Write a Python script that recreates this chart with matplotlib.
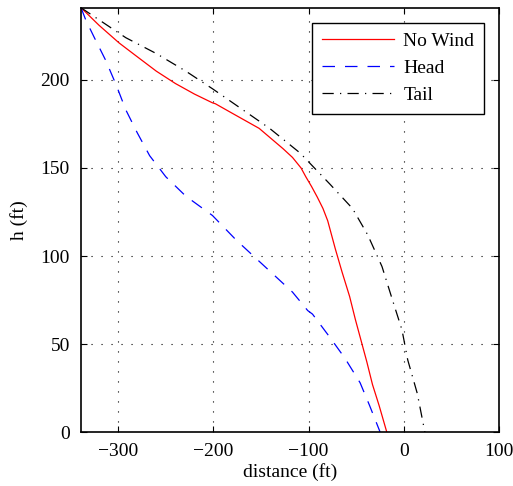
import numpy as np
import matplotlib
matplotlib.use('Agg')
import matplotlib.pyplot as plt

plt.rcParams['font.family'] = 'serif'
plt.rcParams['font.serif'] = ['Liberation Serif', 'DejaVu Serif']
plt.rcParams['font.size'] = 14

# Data (distance in ft, height in ft)
nowind_x = [-339, -320, -299, -282, -260, -240, -220, -201, -198, -180, -152,
            -127, -117, -108, -103, -97, -91, -85, -80, -76, -72, -65, -57,
            -51, -45, -39, -33, -26, -18]
nowind_h = [241, 231, 221, 214, 205, 198, 192, 187, 186.5, 181, 172.5,
            161, 156, 150, 145, 139.5, 133.5, 127, 120, 112, 104, 91, 77,
            64, 52, 40, 27, 15, 0]

head_x = [-339, -334, -325, -313, -302, -292, -280, -267, -250, -229, -201,
          -176, -160, -138, -117, -101, -96, -78, -62, -46, -36, -25]
head_h = [241, 234, 224, 211, 197, 183, 170, 157, 145, 134, 123,
          109, 101, 90, 79.5, 69, 67, 54, 42, 28, 15, 0]

tail_x = [-339, -328, -292, -260, -229, -201, -169, -141, -109, -78, -54,
          -38, -23, -12, -2, 4, 14, 22]
tail_h = [241, 237, 224, 215, 205, 195, 183, 172.5, 158.5, 141, 127,
          112, 94, 75, 58, 41, 22, 0]

fig = plt.figure(figsize=(5.13, 4.86), dpi=100)
ax = fig.add_axes([0.158, 0.111, 0.815, 0.873])

ax.plot(nowind_x, nowind_h, color='red', linewidth=0.9, label='No Wind')
ax.plot(head_x, head_h, color='blue', linewidth=0.9, linestyle=(0, (10, 8)),
        label='Head')
ax.plot(tail_x, tail_h, color='black', linewidth=0.9,
        linestyle=(0, (9, 5, 1, 5)), label='Tail')

ax.set_xlim(-339, 100)
ax.set_ylim(0, 241)
ax.set_xticks([-300, -200, -100, 0, 100])
ax.set_yticks([0, 50, 100, 150, 200])
ax.set_xticklabels(['\u2212300', '\u2212200', '\u2212100', '0', '100'])
ax.set_xlabel('distance (ft)', labelpad=2)
ax.set_ylabel('h (ft)', labelpad=9)

ax.grid(True, color='black', linestyle=(0, (1, 8)), linewidth=0.8)
ax.tick_params(direction='in', top=True, right=True, length=4, width=0.8)
ax.tick_params(axis='x', pad=8)
ax.tick_params(axis='y', pad=8)
for s in ax.spines.values():
    s.set_linewidth(1.2)

leg = ax.legend(loc='upper right', fancybox=False, edgecolor='black',
                framealpha=1, handlelength=3.7, handletextpad=0.5,
                borderpad=0.5, labelspacing=0.48, fontsize=14,
                bbox_to_anchor=(0.964, 0.965), borderaxespad=0)
leg.get_frame().set_linewidth(1.0)

fig.savefig('out.png', dpi=100)
